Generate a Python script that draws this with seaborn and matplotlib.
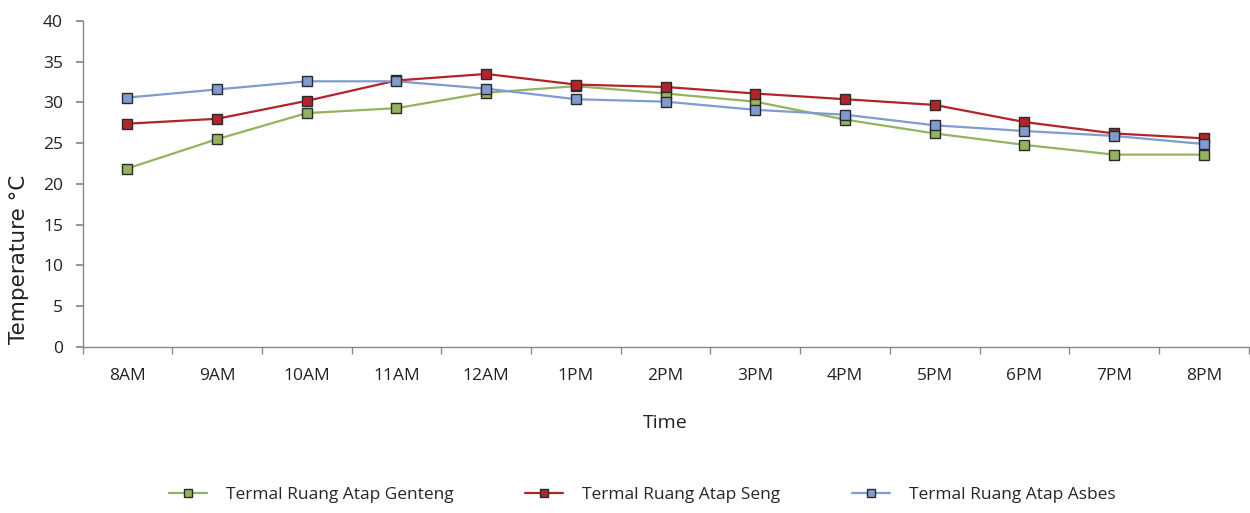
import matplotlib
matplotlib.use("Agg")
import matplotlib.pyplot as plt
import seaborn as sns
import pandas as pd
import numpy as np

times = ["8AM", "9AM", "10AM", "11AM", "12AM", "1PM", "2PM", "3PM", "4PM", "5PM", "6PM", "7PM", "8PM"]
genteng = [21.9, 25.5, 28.7, 29.3, 31.2, 32.0, 31.1, 30.1, 27.9, 26.2, 24.8, 23.6, 23.6]
seng = [27.4, 28.0, 30.2, 32.7, 33.5, 32.2, 31.9, 31.1, 30.4, 29.7, 27.6, 26.2, 25.6]
asbes = [30.6, 31.6, 32.6, 32.6, 31.7, 30.4, 30.1, 29.1, 28.5, 27.2, 26.5, 25.9, 24.9]
series_names = ["Termal Ruang Atap Genteng", "Termal Ruang Atap Seng", "Termal Ruang Atap Asbes"]

rows = []
for name, vals in zip(series_names, [genteng, seng, asbes]):
    for t, v in zip(times, vals):
        rows.append({"Time": t, "Temp": v, "Series": name})
df = pd.DataFrame(rows)

sns.set_theme(style="white")
plt.rcParams['font.family'] = ['Open Sans', 'DejaVu Sans']

fig = plt.figure(figsize=(12.5, 5.13), dpi=100)
ax = fig.add_axes([0.066, 0.3236, 0.933, 0.6355])

palette = {series_names[0]: "#93B35F", series_names[1]: "#B22428", series_names[2]: "#7F9BCF"}
sns.lineplot(data=df, x="Time", y="Temp", hue="Series", palette=palette, sort=False,
             marker="s", markersize=7, markeredgecolor="#2a2a2a", markeredgewidth=1.0,
             linewidth=1.6, ax=ax, legend=True)

ax.set_xlim(-0.5, len(times) - 0.5)
ax.set_ylim(0, 40)
ax.set_yticks(np.arange(0, 41, 5))
ax.set_xticks(range(len(times)))
ax.set_xticklabels(times)
ax.set_xticks(np.arange(-0.5, len(times), 1.0), minor=True)
ax.tick_params(axis="x", which="major", length=0, pad=15, labelsize=12.5, colors="#222222")
ax.tick_params(axis="x", which="minor", length=5, color="#888888", direction="out", bottom=True)
ax.tick_params(axis="y", which="major", length=5, color="#888888", direction="out", left=True,
               labelsize=12.5, colors="#222222", pad=9)
for s in ["top", "right"]:
    ax.spines[s].set_visible(False)
for s in ["left", "bottom"]:
    ax.spines[s].set_color("#888888")
    ax.spines[s].set_linewidth(1.0)

ax.set_xlabel("Time", fontsize=14, labelpad=22, color="#222222")
ax.set_ylabel("Temperature °C", fontsize=15.5, color="#222222",
              family=["DejaVu Sans"])
ax.yaxis.set_label_coords(-0.046, 0.27)

handles, labels = ax.get_legend_handles_labels()
ax.legend(handles, labels, loc="center", bbox_to_anchor=(0.48, -0.455), ncol=3, frameon=False,
          fontsize=12.5, handlelength=2.2, columnspacing=4.1, handletextpad=1.1, markerscale=0.75)

fig.savefig("out.png", dpi=100)
